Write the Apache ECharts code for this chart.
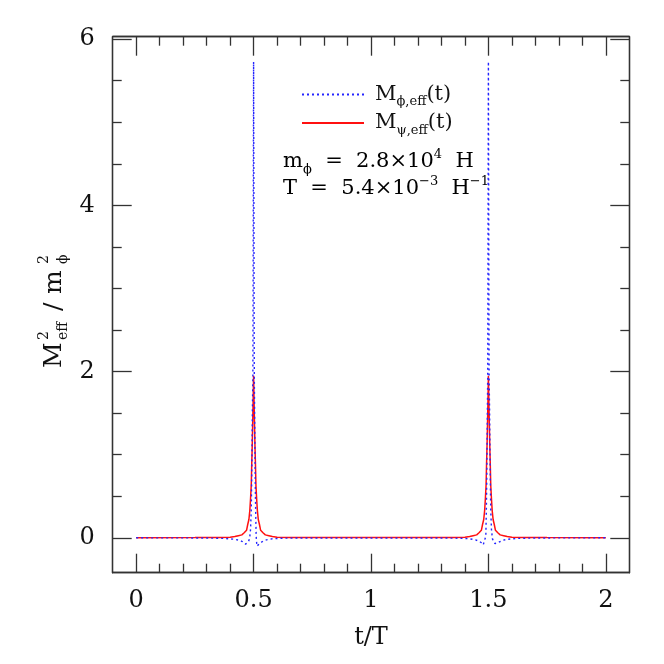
<!DOCTYPE html>
<html>
<head>
<meta charset="utf-8">
<script src="https://cdn.jsdelivr.net/npm/echarts@6/dist/echarts.min.js"></script>
<style>html,body{margin:0;padding:0;background:#fff}#c{width:664px;height:664px}</style>
</head>
<body>
<div id="c"></div>
<script>
// ---- data ----
const tBlue = [0, 0.30, 0.38, 0.42, 0.44, 0.452, 0.460, 0.466, 0.472, 0.478, 0.483, 0.487, 0.490, 0.493, 0.495, 0.497, 0.498, 0.499, 0.500, 0.501, 0.502, 0.503, 0.505, 0.507, 0.509, 0.511, 0.514, 0.517, 0.522, 0.530, 0.540, 0.555, 0.58, 0.62, 0.70,
  1.30, 1.38, 1.42, 1.445, 1.46, 1.47, 1.478, 1.483, 1.486, 1.489, 1.491, 1.493, 1.495, 1.497, 1.498, 1.499, 1.500, 1.501, 1.502, 1.503, 1.505, 1.507, 1.510, 1.513, 1.517, 1.522, 1.528, 1.534, 1.540, 1.548, 1.56, 1.58, 1.62, 1.70, 2.0];
const yBlue = [0, -0.002, -0.008, -0.018, -0.03, -0.045, -0.06, -0.076, -0.07, -0.045, -0.01, 0.1, 0.33, 0.94, 1.54, 1.94, 3.0, 4.5, 5.73, 4.5, 3.0, 1.94, 1.3, 0.7, 0.3, 0.02, -0.1, -0.105, -0.085, -0.06, -0.04, -0.025, -0.012, -0.005, -0.002,
  -0.002, -0.005, -0.012, -0.025, -0.04, -0.06, -0.085, -0.105, -0.1, 0.02, 0.3, 0.7, 1.3, 1.94, 3.0, 4.5, 5.73, 4.5, 3.0, 1.94, 1.54, 0.94, 0.33, 0.1, -0.01, -0.045, -0.07, -0.076, -0.06, -0.045, -0.03, -0.018, -0.008, -0.002, 0];
const tRed = [0, 0.25, 0.35, 0.40, 0.42, 0.435, 0.45, 0.46, 0.47, 0.475, 0.480, 0.484, 0.487, 0.490, 0.492, 0.494, 0.496, 0.498, 0.500, 0.502, 0.504, 0.506, 0.508, 0.510, 0.513, 0.516, 0.520, 0.525, 0.530, 0.540, 0.550, 0.565, 0.58, 0.60, 0.65, 0.75,
  1.25, 1.35, 1.40, 1.42, 1.435, 1.45, 1.46, 1.47, 1.475, 1.480, 1.484, 1.487, 1.490, 1.492, 1.494, 1.496, 1.498, 1.500, 1.502, 1.504, 1.506, 1.508, 1.510, 1.513, 1.516, 1.520, 1.525, 1.530, 1.540, 1.550, 1.565, 1.58, 1.60, 1.65, 1.75, 2.0];
const yRed = [0, 0.003, 0.005, 0.007, 0.015, 0.025, 0.035, 0.06, 0.09, 0.16, 0.22, 0.33, 0.47, 0.63, 0.88, 1.09, 1.35, 1.63, 1.95, 1.63, 1.35, 1.09, 0.88, 0.63, 0.47, 0.33, 0.22, 0.16, 0.09, 0.06, 0.035, 0.025, 0.015, 0.007, 0.005, 0.003,
  0.003, 0.005, 0.007, 0.015, 0.025, 0.035, 0.06, 0.09, 0.16, 0.22, 0.33, 0.47, 0.63, 0.88, 1.09, 1.35, 1.63, 1.95, 1.63, 1.35, 1.09, 0.88, 0.63, 0.47, 0.33, 0.22, 0.16, 0.09, 0.06, 0.035, 0.025, 0.015, 0.007, 0.005, 0.003, 0];
const xMajor = [0, 0.5, 1, 1.5, 2];
const xMinor = [0.1, 0.2, 0.3, 0.4, 0.6, 0.7, 0.8, 0.9, 1.1, 1.2, 1.3, 1.4, 1.6, 1.7, 1.8, 1.9];
const yMajor = [0, 2, 4, 6];
const yMinor = [0.5, 1, 1.5, 2.5, 3, 3.5, 4.5, 5, 5.5];
const xRange = [-0.1, 2.1];
const yRange = [-0.42, 6.03];

// ---- chart ----
const frame = '#333';
const serif = 'DejaVu Serif';
function axis(kind, pos, vals, len, labels) {
  return {
    type: 'value', position: pos,
    min: kind === 'x' ? xRange[0] : yRange[0],
    max: kind === 'x' ? xRange[1] : yRange[1],
    axisLine: { show: true, onZero: false, lineStyle: { color: frame, width: 1.3 } },
    axisTick: { show: true, inside: true, length: len, customValues: vals, lineStyle: { color: frame, width: 1.3 } },
    axisLabel: { show: labels, customValues: vals, color: '#111', fontFamily: serif, fontSize: 24, margin: kind === 'x' ? 16 : 18 },
    splitLine: { show: false }
  };
}
const xAxes = [axis('x', 'bottom', xMajor, 19, true), axis('x', 'bottom', xMinor, 9, false),
               axis('x', 'top', xMajor, 19, false), axis('x', 'top', xMinor, 9, false)];
xAxes[0].name = 't/T';
xAxes[0].nameLocation = 'middle';
xAxes[0].nameGap = 53;
xAxes[0].nameTextStyle = { fontFamily: serif, fontSize: 24, color: '#111' };
const yAxes = [axis('y', 'left', yMajor, 19, true), axis('y', 'left', yMinor, 9, false),
               axis('y', 'right', yMajor, 19, false), axis('y', 'right', yMinor, 9, false)];

const richTxt = {
  a: { fontFamily: serif, fontSize: 21, color: '#111', lineHeight: 28 },
  a0: { fontFamily: serif, fontSize: 21, color: '#111', lineHeight: 28, padding: [0, 0, 0, 6] },
  s: { fontFamily: serif, fontSize: 13, color: '#111', verticalAlign: 'bottom', lineHeight: 28 },
  p: { fontFamily: serif, fontSize: 13, color: '#111', verticalAlign: 'top', lineHeight: 28 }
};

const chart = echarts.init(document.getElementById('c'), null, { renderer: 'canvas' });
chart.setOption({
  animation: false,
  backgroundColor: '#fff',
  grid: { left: 112.7, right: 34.7, top: 36.7, bottom: 91.3, containLabel: false },
  xAxis: xAxes,
  yAxis: yAxes,
  legend: {
    data: ['phi', 'psi'],
    orient: 'vertical', left: 296, top: 79,
    itemWidth: 62, itemHeight: 14, itemGap: 4,
    itemStyle: { opacity: 0 },
    formatter: n => n === 'phi' ? '{a0|M}{s|ϕ,eff}{a|(t)}' : '{a0|M}{s|ψ,eff}{a|(t)}',
    textStyle: { rich: richTxt },
    selectedMode: false
  },
  graphic: [
    { type: 'text', left: 283, top: 148, style: { text: '{a|m}{s|ϕ}{a|  =  2.8×10}{p|4}{a|  H}', rich: richTxt } },
    { type: 'text', left: 283, top: 175, style: { text: '{a|T  =  5.4×10}{p|−3}{a|  H}{p|−1}', rich: richTxt } },
    { type: 'group', x: 62, y: 368, rotation: Math.PI / 2, children: [
      { type: 'text', x: 0, y: -8, style: { text: 'M', font: '25px "DejaVu Serif"', fill: '#111', verticalAlign: 'middle' } },
      { type: 'text', x: 28, y: -18, style: { text: '2', font: '14px "DejaVu Serif"', fill: '#111', verticalAlign: 'middle' } },
      { type: 'text', x: 28, y: 1, style: { text: 'eff', font: '14px "DejaVu Serif"', fill: '#111', verticalAlign: 'middle' } },
      { type: 'text', x: 57, y: -8, style: { text: '/', font: '25px "DejaVu Serif"', fill: '#111', verticalAlign: 'middle' } },
      { type: 'text', x: 74, y: -8, style: { text: 'm', font: '25px "DejaVu Serif"', fill: '#111', verticalAlign: 'middle' } },
      { type: 'text', x: 104, y: -18, style: { text: '2', font: '14px "DejaVu Serif"', fill: '#111', verticalAlign: 'middle' } },
      { type: 'text', x: 104, y: 1, style: { text: 'ϕ', font: '14px "DejaVu Serif"', fill: '#111', verticalAlign: 'middle' } }
    ]}
  ],
  series: [
    { name: 'phi', type: 'line', xAxisIndex: 0, yAxisIndex: 0, z: 4, symbol: 'none', showSymbol: false,
      data: tBlue.map((t, i) => [t, yBlue[i]]),
      lineStyle: { color: '#2424ff', width: 1.4, type: [2, 3] }, itemStyle: { color: '#2424ff' } },
    { name: 'psi', type: 'line', xAxisIndex: 0, yAxisIndex: 0, z: 3, symbol: 'none', showSymbol: false,
      data: tRed.map((t, i) => [t, yRed[i]]),
      lineStyle: { color: '#ff1010', width: 1.5 }, itemStyle: { color: '#ff1010' } }
  ]
});
</script>
</body>
</html>
